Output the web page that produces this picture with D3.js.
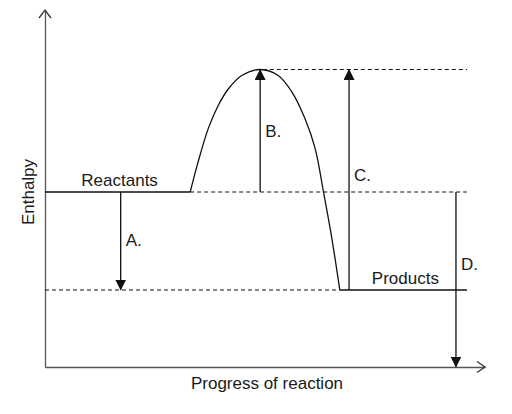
<!DOCTYPE html>
<html>
<head>
<meta charset="utf-8">
<script src="https://cdn.jsdelivr.net/npm/d3@7"></script>
<style>
  body { margin: 0; background: #fff; }
  svg { display: block; }
  text { font-family: "Liberation Sans", Arial, sans-serif; font-size: 17px; fill: #1a1a1a; }
</style>
</head>
<body>
<script>
// values (progress 0-100, enthalpy 0-100)
var levelNames = ['Reactants', 'Products'];
var levelValues = [50, 22];
var levelStart = [0, 67];
var levelEnd = [33, 95.9];

var curveProgress = [33, 34.8, 37.1, 39.4, 41.7, 44.7, 48.9, 53.0, 56.1, 59.1, 61.4, 63.3, 65.2, 67.0];
var curveEnthalpy = [50, 58.6, 68.1, 74.8, 79.5, 83.3, 85, 83.3, 78.6, 70.9, 62.4, 50, 36.7, 22];

var guideValues = [85, 50, 22];
var guideStart = [49.5, 33, 0];
var guideEnd = [95.9, 95.9, 67];

var arrowLabels = ['A.', 'B.', 'C.', 'D.'];
var arrowProgress = [17.2, 48.9, 69.1, 93.4];
var arrowFrom = [50, 50, 22, 50];
var arrowTo = [22, 85, 85, 0];

var xTitle = 'Progress of reaction';
var yTitle = 'Enthalpy';
var yAxisMax = 102;

var width = 512, height = 414;

var x = d3.scaleLinear().domain([0, 100]).range([45, 485]);
var y = d3.scaleLinear().domain([0, 100]).range([367, 17]);

var svg = d3.select('body').append('svg')
  .attr('width', width)
  .attr('height', height);

svg.append('defs').append('marker')
    .attr('id', 'head')
    .attr('markerUnits', 'userSpaceOnUse')
    .attr('viewBox', '0 0 11 11')
    .attr('markerWidth', 11)
    .attr('markerHeight', 11)
    .attr('refX', 10.5)
    .attr('refY', 5.5)
    .attr('orient', 'auto')
  .append('path')
    .attr('d', 'M0,0L11,5.5L0,11Z')
    .attr('fill', '#111');

// axes
var xAxis = d3.axisBottom(x).tickValues([]).tickSizeOuter(0);
svg.append('g')
    .attr('transform', 'translate(0,' + y(0) + ')')
    .call(xAxis)
    .select('.domain').attr('stroke', '#555').attr('stroke-width', 1.3);

var yAxisScale = y.copy().domain([0, yAxisMax]).range([y(0), y(yAxisMax)]);
var yAxis = d3.axisLeft(yAxisScale).tickValues([]).tickSizeOuter(0);
svg.append('g')
    .attr('transform', 'translate(' + x(0) + ',0)')
    .call(yAxis)
    .select('.domain').attr('stroke', '#555').attr('stroke-width', 1.3);

// open chevrons at the axis ends
var chevron = d3.line();
svg.append('path')
    .attr('d', chevron([[x(100) - 8, y(0) - 5.5], [x(100), y(0)], [x(100) - 8, y(0) + 5.5]]))
    .attr('fill', 'none').attr('stroke', '#333').attr('stroke-width', 1.3);
svg.append('path')
    .attr('d', chevron([[x(0) - 6, y(yAxisMax) + 8], [x(0), y(yAxisMax)], [x(0) + 6, y(yAxisMax) + 8]]))
    .attr('fill', 'none').attr('stroke', '#333').attr('stroke-width', 1.3);

// dashed guides
svg.selectAll('.guide')
    .data(guideValues)
  .enter().append('line')
    .attr('class', 'guide')
    .attr('x1', function(d, i) { return x(guideStart[i]); })
    .attr('x2', function(d, i) { return x(guideEnd[i]); })
    .attr('y1', function(d) { return y(d); })
    .attr('y2', function(d) { return y(d); })
    .attr('stroke', '#111')
    .attr('stroke-width', 1)
    .attr('stroke-dasharray', '4,3');

// energy levels
svg.selectAll('.level')
    .data(levelValues)
  .enter().append('line')
    .attr('class', 'level')
    .attr('x1', function(d, i) { return x(levelStart[i]); })
    .attr('x2', function(d, i) { return x(levelEnd[i]); })
    .attr('y1', function(d) { return y(d); })
    .attr('y2', function(d) { return y(d); })
    .attr('stroke', '#111')
    .attr('stroke-width', 1.3);

svg.selectAll('.level-label')
    .data(levelNames)
  .enter().append('text')
    .attr('class', 'level-label')
    .attr('x', function(d, i) { return x((levelStart[i] + levelEnd[i]) / 2) + 2; })
    .attr('y', function(d, i) { return y(levelValues[i]) - 6; })
    .attr('text-anchor', 'middle')
    .text(function(d) { return d; });

// the hump
var line = d3.line()
  .x(function(d) { return x(d[0]); })
  .y(function(d) { return y(d[1]); })
  .curve(d3.curveCatmullRom.alpha(0.5));

svg.append('path')
    .datum(d3.zip(curveProgress, curveEnthalpy))
    .attr('d', line)
    .attr('fill', 'none')
    .attr('stroke', '#111')
    .attr('stroke-width', 1.3);

// arrows
svg.selectAll('.arrow')
    .data(arrowProgress)
  .enter().append('line')
    .attr('class', 'arrow')
    .attr('x1', function(d) { return x(d); })
    .attr('x2', function(d) { return x(d); })
    .attr('y1', function(d, i) { return y(arrowFrom[i]); })
    .attr('y2', function(d, i) { return y(arrowTo[i]); })
    .attr('stroke', '#111')
    .attr('stroke-width', 1.3)
    .attr('marker-end', 'url(#head)');

var labelShift = [5, 6, 1, -10];
svg.selectAll('.arrow-label')
    .data(arrowLabels)
  .enter().append('text')
    .attr('class', 'arrow-label')
    .attr('x', function(d, i) { return x(arrowProgress[i]) + 5; })
    .attr('y', function(d, i) { return y((arrowFrom[i] + arrowTo[i]) / 2) + labelShift[i]; })
    .text(function(d) { return d; });

// titles
svg.append('text')
    .attr('x', 267)
    .attr('y', 389)
    .attr('text-anchor', 'middle')
    .text(xTitle);

svg.append('text')
    .attr('transform', 'translate(34,' + y(50) + ') rotate(-90)')
    .attr('text-anchor', 'middle')
    .text(yTitle);
</script>
</body>
</html>
